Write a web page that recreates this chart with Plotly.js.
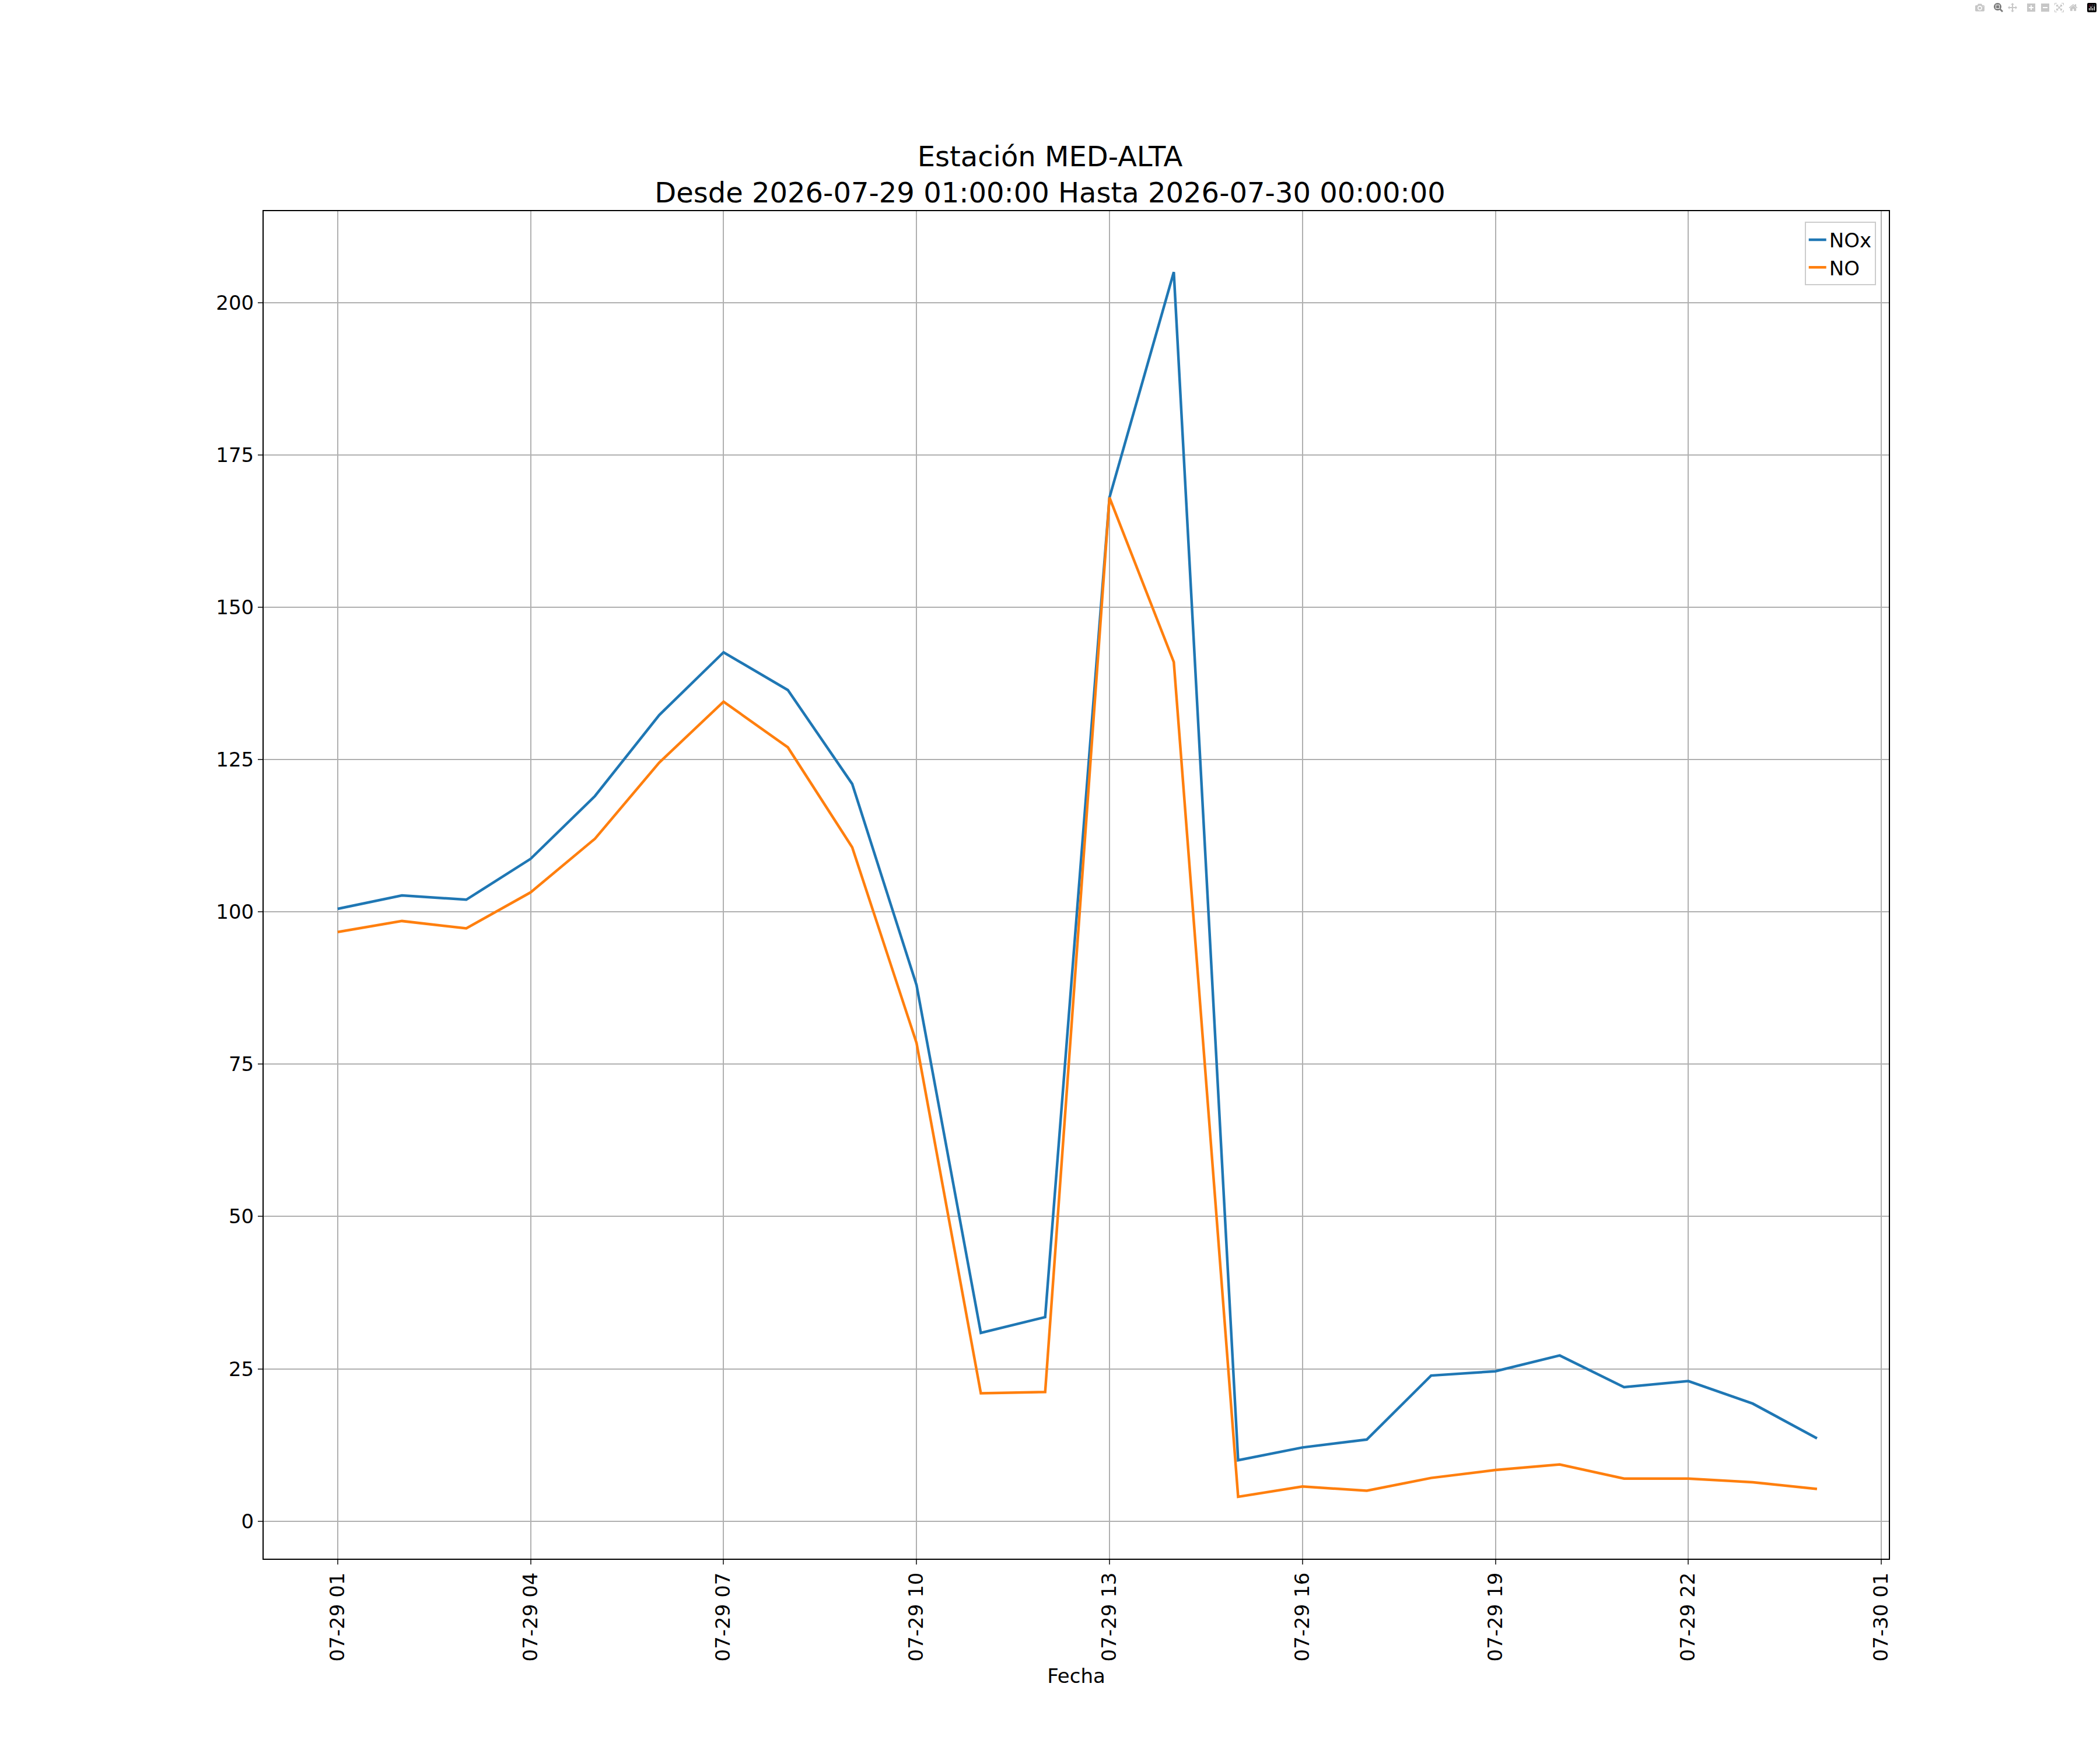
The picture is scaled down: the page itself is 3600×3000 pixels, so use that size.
<html><head>
<script src="https://cdn.plot.ly/plotly-3.0.1.min.js"></script>
<style>body{margin:0;background:#fff}</style>
</head><body>
<div id="chart" style="width:3600px;height:3000px"></div>
<script>
// hourly values, 2026-07-29 01:00 to 2026-07-30 00:00
var fechas = [];
for (var h = 1; h <= 24; h++) {
    fechas.push(h < 24 ? '2026-07-29 ' + String(h).padStart(2, '0') + ':00' : '2026-07-30 00:00');
}
var nox = [100.5, 102.7, 102, 108.7, 119, 132.3, 142.6, 136.4, 121, 88, 30.9, 33.5,
           168, 205, 10, 12.1, 13.4, 23.9, 24.6, 27.2, 22, 23, 19.3, 13.6];
var no = [96.7, 98.5, 97.3, 103.2, 112, 124.5, 134.5, 127, 110.6, 78.5, 21, 21.2,
          168, 141, 4, 5.7, 5, 7.1, 8.4, 9.3, 7, 7, 6.4, 5.3];
var tickVals = ['2026-07-29 01:00', '2026-07-29 04:00', '2026-07-29 07:00', '2026-07-29 10:00',
                '2026-07-29 13:00', '2026-07-29 16:00', '2026-07-29 19:00', '2026-07-29 22:00',
                '2026-07-30 01:00'];
var tickText = ['07-29 01', '07-29 04', '07-29 07', '07-29 10', '07-29 13', '07-29 16',
                '07-29 19', '07-29 22', '07-30 01'];

var data = [
    {x: fechas, y: nox, name: 'NOx', mode: 'lines', type: 'scatter', line: {color: '#1f77b4', width: 4.5}},
    {x: fechas, y: no, name: 'NO', mode: 'lines', type: 'scatter', line: {color: '#ff7f0e', width: 4.5}}
];

var layout = {
    width: 3600, height: 3000,
    font: {family: 'DejaVu Sans', size: 34, color: '#000'},
    paper_bgcolor: '#fff', plot_bgcolor: '#fff',
    margin: {l: 452, r: 362, t: 362, b: 328},
    title: {text: 'Estación MED-ALTA<br>Desde 2026-07-29 01:00:00 Hasta 2026-07-30 00:00:00',
            font: {size: 48}, x: 0.5, xanchor: 'center', y: 0.905, yanchor: 'bottom'},
    xaxis: {
        type: 'date', range: ['2026-07-28 23:51', '2026-07-30 01:07'],
        tickvals: tickVals, ticktext: tickText, tickangle: -90,
        showgrid: true, gridcolor: '#b0b0b0', gridwidth: 2,
        showline: true, mirror: true, linecolor: '#000', linewidth: 2,
        ticks: 'outside', ticklen: 8, tickwidth: 2, zeroline: false,
        title: {text: 'Fecha', font: {size: 34}, standoff: 14}
    },
    yaxis: {
        range: [-6.15, 215], tickvals: [0, 25, 50, 75, 100, 125, 150, 175, 200],
        showgrid: true, gridcolor: '#b0b0b0', gridwidth: 2,
        showline: true, mirror: true, linecolor: '#000', linewidth: 2,
        ticks: 'outside', ticklen: 8, tickwidth: 2, zeroline: false
    },
    showlegend: true,
    legend: {x: 0.992, y: 0.992, xanchor: 'right', yanchor: 'top',
             bordercolor: '#ccc', borderwidth: 2, bgcolor: '#fff', font: {size: 34}}
};

Plotly.newPlot('chart', data, layout);
</script>
</body></html>
